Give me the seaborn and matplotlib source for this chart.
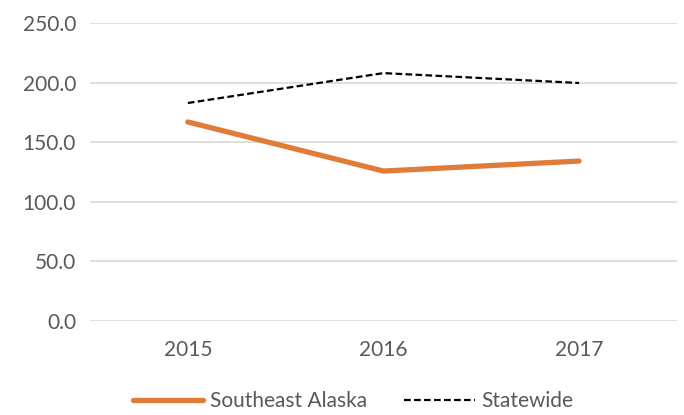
import matplotlib
matplotlib.use("Agg")
import matplotlib.pyplot as plt
import seaborn as sns
import pandas as pd

years = ["2015", "2016", "2017"]
southeast_alaska = [167.0, 125.8, 134.2]
statewide = [182.9, 208.0, 199.7]

sns.set_theme(style="white")
plt.rcParams["font.family"] = ["Lato", "DejaVu Sans"]

df = pd.DataFrame({"Year": years, "Southeast Alaska": southeast_alaska, "Statewide": statewide})

fig = plt.figure(figsize=(6.84, 4.15), dpi=100)
ax = fig.add_axes([0.1316, 0.2265, 0.858, 0.718])

x = list(range(len(years)))
sns.lineplot(x=x, y=df["Southeast Alaska"], ax=ax, color="#E07B39", linewidth=3.8,
             solid_capstyle="round", label="Southeast Alaska")
sns.lineplot(x=x, y=df["Statewide"], ax=ax, color="black", linewidth=1.6,
             linestyle=(0, (3, 1.5)), label="Statewide")

ax.set_xlim(-0.5, 2.5)
ax.set_ylim(0, 250)
ax.set_yticks(range(0, 251, 50))
ax.set_yticklabels([f"{v:.1f}" for v in range(0, 251, 50)])
ax.set_xticks(x)
ax.set_xticklabels(years)
ax.grid(axis="y", color="#D9D9D9", linewidth=1.2)
ax.set_axisbelow(True)
for s in ax.spines.values():
    s.set_visible(False)
ax.tick_params(axis="both", length=0, labelsize=15, labelcolor="#595959")
ax.tick_params(axis="x", pad=14)
ax.tick_params(axis="y", pad=10)
ax.set_xlabel("")
ax.set_ylabel("")

leg = ax.legend(loc="center", bbox_to_anchor=(0.448, -0.27), ncol=2, frameon=False,
                fontsize=15, handlelength=3.4, handletextpad=0.3, columnspacing=1.8)
for t in leg.get_texts():
    t.set_color("#595959")

fig.savefig("out.png", dpi=100)
